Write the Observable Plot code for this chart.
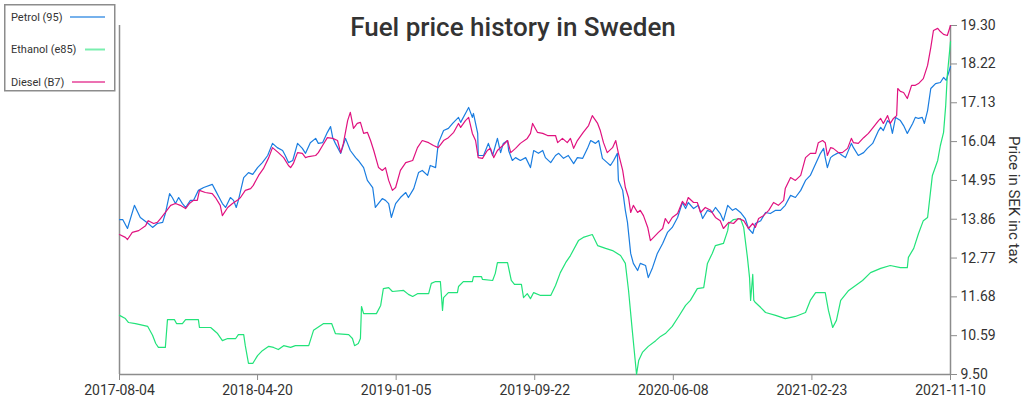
<!DOCTYPE html>
<html>
<head>
<meta charset="utf-8">
<script src="https://cdn.jsdelivr.net/npm/d3@7"></script>
<script src="https://cdn.jsdelivr.net/npm/@observablehq/plot@0.6"></script>
<style>
  html, body { margin: 0; padding: 0; background: #fff; }
  #wrap { position: relative; width: 1024px; height: 400px; font-family: Roboto, sans-serif; }
  #legend { position: absolute; left: 4px; top: 4px; }
</style>
</head>
<body>
<div id="wrap"></div>
<script>
// ---- data (days since start date, price in SEK) ----
const startDate = "2017-08-04";
const endDate = "2021-11-10";
const xTickLabels = ["2017-08-04","2018-04-20","2019-01-05","2019-09-22","2020-06-08","2021-02-23","2021-11-10"];
const yTickLabels = ["9.50","10.59","11.68","12.77","13.86","14.95","16.04","17.13","18.22","19.30"];
const seriesNames = ["Petrol (95)", "Ethanol (e85)", "Diesel (B7)"];
const seriesColors = ["#1a7de0", "#22e37a", "#e0127f"];

const petrol = [[0,13.85],[6,13.85],[15,13.60],[28,14.25],[39,13.91],[54,13.74],[62,13.63],[71,13.74],[81,13.77],[86,14.02],[94,14.58],[99,14.47],[105,14.30],[111,14.47],[118,14.30],[124,14.19],[133,14.39],[139,14.39],[148,14.67],[158,14.75],[174,14.84],[180,14.67],[186,14.50],[193,14.30],[199,14.19],[208,14.47],[214,14.39],[219,14.19],[223,14.39],[233,15.03],[242,15.17],[250,15.12],[259,15.31],[268,15.45],[278,15.65],[287,15.99],[296,15.87],[306,15.79],[311,15.65],[317,15.45],[325,15.51],[334,15.99],[343,15.85],[349,15.71],[358,16.01],[368,16.13],[373,15.99],[381,16.01],[390,16.30],[396,16.46],[400,16.15],[405,15.99],[415,15.71],[424,16.13],[433,15.79],[443,15.59],[448,15.51],[458,15.31],[465,14.95],[475,14.75],[480,14.19],[493,14.44],[499,14.39],[505,14.30],[510,13.91],[518,14.30],[527,14.47],[537,14.61],[542,14.47],[552,14.72],[561,15.17],[568,15.23],[578,15.09],[583,15.37],[593,15.31],[598,15.99],[608,16.35],[617,16.41],[625,16.55],[630,16.63],[636,16.72],[640,16.58],[649,16.83],[655,17.00],[662,16.72],[664,16.83],[672,16.27],[673,15.65],[683,15.65],[692,15.99],[700,15.65],[709,16.13],[715,15.73],[720,15.99],[728,16.07],[730,15.79],[737,15.51],[743,15.59],[752,15.51],[762,15.59],[771,15.31],[777,15.79],[786,15.71],[794,15.79],[799,15.59],[809,15.45],[818,15.65],[824,15.71],[833,15.57],[842,15.65],[852,15.42],[859,15.59],[869,15.57],[878,15.85],[884,16.07],[893,15.99],[899,16.07],[906,15.57],[915,15.45],[921,15.37],[927,15.51],[934,15.71],[936,14.95],[944,14.67],[949,14.11],[953,13.77],[959,12.90],[964,12.62],[972,12.42],[977,12.62],[987,12.56],[992,12.22],[1000,12.50],[1009,12.90],[1019,13.18],[1028,13.49],[1037,13.63],[1047,13.91],[1056,14.33],[1062,14.16],[1067,14.33],[1077,14.16],[1086,14.25],[1094,13.88],[1103,14.11],[1112,14.05],[1118,14.19],[1127,14.02],[1133,13.82],[1141,14.25],[1150,14.11],[1156,14.16],[1165,14.05],[1174,13.88],[1180,13.60],[1188,13.46],[1193,13.74],[1203,13.82],[1212,14.05],[1221,14.02],[1231,14.11],[1240,14.11],[1249,14.25],[1259,14.53],[1268,14.47],[1278,14.67],[1287,14.95],[1296,15.09],[1306,15.42],[1315,15.71],[1321,15.85],[1324,15.59],[1328,15.31],[1334,15.59],[1339,15.65],[1349,15.73],[1356,15.65],[1362,15.59],[1373,15.99],[1377,15.87],[1386,15.65],[1396,15.73],[1403,15.85],[1413,15.99],[1424,16.35],[1428,16.44],[1433,16.35],[1441,16.63],[1446,16.55],[1450,16.27],[1456,16.72],[1465,16.63],[1471,16.49],[1478,16.27],[1488,16.55],[1493,16.72],[1499,16.69],[1506,16.72],[1510,16.55],[1516,16.91],[1522,17.53],[1531,17.67],[1540,17.70],[1546,17.84],[1551,17.76],[1559,18.15]];

const ethanol = [[0,11.16],[11,11.07],[17,10.96],[30,10.93],[53,10.85],[62,10.60],[68,10.37],[73,10.26],[86,10.26],[90,11.04],[103,11.04],[107,10.93],[118,10.93],[124,11.04],[148,11.04],[150,10.82],[171,10.82],[184,10.65],[193,10.45],[203,10.51],[218,10.51],[223,10.62],[233,10.62],[236,10.31],[242,9.81],[250,9.81],[259,10.03],[268,10.17],[280,10.29],[289,10.26],[298,10.20],[308,10.31],[321,10.26],[330,10.31],[355,10.31],[364,10.74],[383,10.93],[398,10.93],[405,10.65],[430,10.62],[437,10.51],[441,10.31],[448,10.37],[452,10.51],[454,11.41],[458,11.21],[482,11.21],[490,11.44],[495,11.91],[505,11.94],[512,11.83],[533,11.86],[542,11.75],[550,11.69],[559,11.77],[580,11.77],[585,12.06],[593,12.11],[602,12.11],[606,11.30],[608,11.66],[617,11.80],[634,11.80],[636,11.97],[645,12.11],[662,12.11],[664,12.25],[679,12.25],[681,12.17],[700,12.14],[705,12.34],[709,12.64],[728,12.64],[735,12.14],[741,12.03],[754,12.03],[758,11.66],[765,11.77],[771,11.63],[777,11.80],[790,11.72],[809,11.72],[818,12.00],[827,12.36],[837,12.64],[846,12.84],[861,13.26],[870,13.35],[887,13.43],[897,13.12],[912,13.04],[925,12.98],[940,12.84],[949,12.62],[955,11.86],[962,10.74],[970,9.50],[974,9.89],[981,10.12],[992,10.29],[1006,10.45],[1015,10.57],[1024,10.65],[1037,10.85],[1049,11.13],[1062,11.44],[1071,11.58],[1084,11.91],[1096,11.94],[1103,12.62],[1112,12.90],[1118,13.12],[1133,13.18],[1141,13.54],[1143,13.74],[1152,13.85],[1165,13.88],[1171,13.63],[1178,12.79],[1182,12.22],[1184,11.58],[1188,12.31],[1190,11.58],[1193,11.52],[1203,11.38],[1212,11.24],[1231,11.16],[1249,11.07],[1268,11.13],[1287,11.24],[1296,11.58],[1306,11.80],[1324,11.80],[1330,11.30],[1338,10.82],[1345,11.02],[1353,11.58],[1368,11.86],[1381,12.00],[1394,12.14],[1409,12.36],[1428,12.48],[1446,12.56],[1465,12.50],[1478,12.50],[1480,12.79],[1490,13.04],[1499,13.46],[1508,13.82],[1516,13.91],[1525,15.09],[1535,15.51],[1540,15.93],[1546,16.30],[1550,17.05],[1553,17.90],[1559,18.85]];

const diesel = [[0,13.43],[11,13.35],[15,13.29],[24,13.49],[36,13.54],[49,13.68],[54,13.82],[64,13.74],[71,13.77],[77,13.88],[86,14.05],[96,14.25],[105,14.30],[114,14.25],[124,14.16],[131,14.30],[139,14.39],[146,14.39],[150,14.67],[161,14.61],[174,14.58],[180,14.47],[189,14.25],[193,13.96],[203,14.19],[212,14.30],[221,14.39],[227,14.47],[236,14.67],[246,14.72],[251,14.81],[261,15.09],[270,15.28],[280,15.59],[287,15.87],[298,15.73],[308,15.59],[317,15.37],[321,15.31],[326,15.42],[334,15.73],[343,15.71],[349,15.59],[355,15.62],[368,15.65],[373,15.73],[381,15.93],[390,16.15],[400,16.13],[409,16.07],[415,15.73],[420,15.99],[428,16.63],[433,16.86],[439,16.41],[446,16.55],[452,16.58],[458,16.27],[465,16.30],[471,16.07],[477,15.79],[486,15.31],[493,15.23],[499,15.31],[505,14.95],[512,14.67],[518,14.75],[527,15.23],[537,15.45],[550,15.51],[559,15.87],[568,16.07],[580,16.01],[589,15.93],[598,15.87],[608,16.07],[617,16.15],[627,16.30],[636,16.55],[640,16.44],[649,16.63],[655,16.72],[662,16.27],[668,16.07],[673,15.59],[681,15.57],[690,15.79],[696,15.85],[702,15.59],[709,15.79],[719,15.93],[728,16.07],[734,15.73],[743,15.85],[752,15.99],[765,16.13],[771,16.27],[775,16.55],[784,16.30],[794,16.27],[803,16.21],[818,16.21],[822,16.01],[831,16.13],[840,16.01],[846,16.13],[852,15.85],[859,16.07],[870,16.30],[880,16.49],[887,16.77],[897,16.55],[902,16.35],[908,16.01],[915,15.73],[925,15.87],[931,16.07],[936,15.71],[944,15.23],[949,14.75],[955,14.47],[959,14.05],[964,14.25],[972,14.05],[977,14.11],[983,13.96],[991,13.63],[996,13.26],[1002,13.35],[1011,13.49],[1019,13.60],[1024,13.88],[1030,13.74],[1037,13.91],[1047,14.02],[1056,14.36],[1062,14.25],[1067,14.47],[1077,14.33],[1084,14.33],[1090,14.05],[1099,14.19],[1109,14.11],[1118,13.91],[1127,13.82],[1133,13.60],[1143,13.77],[1152,13.74],[1161,13.88],[1171,13.82],[1180,13.60],[1188,13.74],[1193,13.63],[1199,13.88],[1208,13.96],[1218,14.11],[1227,14.33],[1236,14.25],[1246,14.39],[1249,14.72],[1259,15.03],[1268,14.95],[1278,15.09],[1287,15.59],[1296,15.71],[1306,15.71],[1311,16.01],[1319,16.07],[1324,16.01],[1328,15.65],[1334,15.87],[1339,15.85],[1349,15.73],[1356,15.73],[1366,15.85],[1373,16.13],[1377,16.01],[1386,15.99],[1396,16.15],[1405,16.27],[1414,16.44],[1424,16.63],[1428,16.69],[1433,16.55],[1441,16.77],[1446,16.55],[1452,16.69],[1458,16.77],[1460,17.53],[1465,17.45],[1471,17.42],[1478,17.25],[1486,17.62],[1493,17.62],[1499,17.67],[1508,17.81],[1516,18.18],[1522,18.68],[1527,19.16],[1535,19.22],[1540,19.13],[1546,19.05],[1553,19.02],[1559,19.30]];

// ---- build ----
const parse = d3.utcParse("%Y-%m-%d");
const t0 = parse(startDate);
const toRows = (arr) => arr.map(([d, p]) => ({date: d3.utcDay.offset(t0, d), price: p}));
const series = [petrol, ethanol, diesel].map(toRows);
const xTicks = xTickLabels.map(parse);
const yTicks = yTickLabels.map(Number);
const yDomain = [yTicks[0], yTicks[yTicks.length - 1]];
const xDomain = [t0, parse(endDate)];
const axisGray = "#8c8c8c";
const textColor = "#333";

const chart = Plot.plot({
  width: 1024,
  height: 400,
  marginLeft: 119,
  marginRight: 74,
  marginTop: 25,
  marginBottom: 26,
  style: {fontFamily: "Roboto, sans-serif", fontSize: "14px", color: textColor, background: "#fff", overflow: "visible"},
  x: {type: "utc", domain: xDomain},
  y: {domain: yDomain},
  marks: [
    Plot.ruleX([xDomain[0]], {stroke: axisGray, strokeWidth: 1.5}),
    Plot.ruleX([xDomain[1]], {stroke: axisGray, strokeWidth: 1.5}),
    Plot.ruleY([yDomain[0]], {stroke: axisGray, strokeWidth: 1.5}),
    Plot.axisY({anchor: "right", ticks: yTicks, tickFormat: (d) => d.toFixed(2), tickSize: 6, tickPadding: 4, stroke: axisGray, fill: textColor, label: null, fontSize: 14}),
    Plot.axisX({ticks: xTicks, tickFormat: d3.utcFormat("%Y-%m-%d"), tickSize: 6, tickPadding: 5, stroke: axisGray, fill: textColor, label: null, fontSize: 14}),
    ...series.map((rows, i) => Plot.line(rows, {x: "date", y: "price", stroke: seriesColors[i], strokeWidth: 1.2})),
    Plot.text(["Fuel price history in Sweden"], {frameAnchor: "top", dx: -22, dy: 2, lineAnchor: "middle", fontSize: 26, fontWeight: 500, fill: textColor}),
    Plot.text(["Price in SEK inc tax"], {frameAnchor: "right", dx: 63, rotate: 90, textAnchor: "middle", lineAnchor: "middle", fontSize: 15, fill: textColor})
  ]
});

const wrap = document.getElementById("wrap");
wrap.appendChild(chart);

// legend (SVG overlay)
const legend = d3.select(wrap).append("svg")
  .attr("id", "legend").attr("width", 112).attr("height", 88);
legend.append("rect").attr("x", 0.75).attr("y", 0.75).attr("width", 110).attr("height", 86)
  .attr("fill", "#fff").attr("stroke", axisGray).attr("stroke-width", 1.5);
const lineStarts = [66, 81, 68];
seriesNames.forEach((name, i) => {
  const cy = 13 + i * 32.5;
  legend.append("text").attr("x", 7).attr("y", cy).attr("dy", "0.35em")
    .attr("font-family", "Roboto, sans-serif").attr("font-size", 11).attr("fill", textColor).text(name);
  legend.append("line").attr("x1", lineStarts[i]).attr("x2", 101).attr("y1", cy).attr("y2", cy)
    .attr("stroke", seriesColors[i]).attr("stroke-opacity", 0.6).attr("stroke-width", 2);
});
</script>
</body>
</html>
